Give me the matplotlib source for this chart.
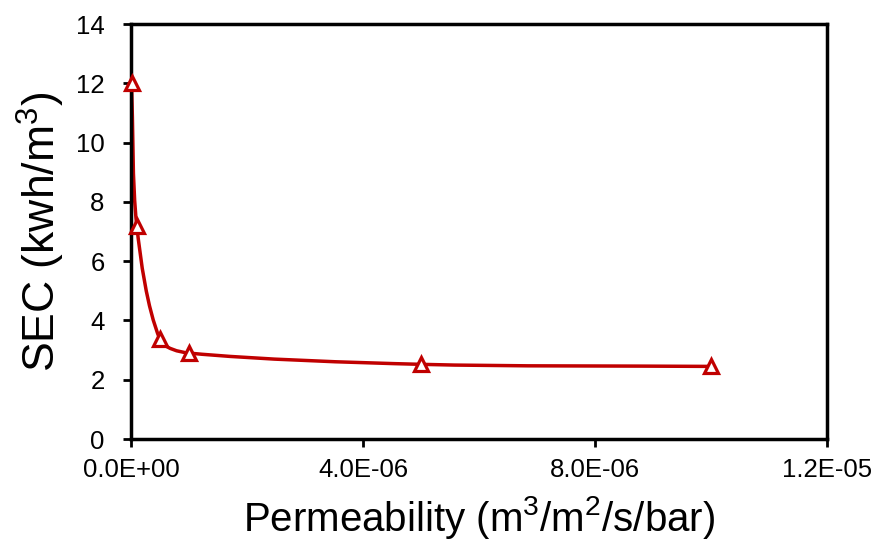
import numpy as np
import matplotlib
matplotlib.use("Agg")
import matplotlib.pyplot as plt
from matplotlib.path import Path
from matplotlib.patches import PathPatch
from matplotlib.ticker import FuncFormatter, MultipleLocator

plt.rcParams['font.family'] = ['Liberation Sans', 'DejaVu Sans']
plt.rcParams['mathtext.default'] = 'regular'

# permeability (m3/m2/s/bar) vs specific energy consumption (kWh/m3)
permeability = [1e-8, 1e-7, 5e-7, 1e-6, 5e-6, 1e-5]
sec = [12.0, 7.2, 3.36, 2.9, 2.52, 2.45]

x_ticks = [0, 4e-6, 8e-6, 1.2e-5]
x_max, y_max = 1.2e-5, 14
line_color = '#C00000'


def smooth_path(xs, ys, sx, sy, k=0.3):
    """Bezier path through the points; tangents taken in screen units."""
    pts = np.column_stack([np.asarray(xs) * sx, np.asarray(ys) * sy])
    n = len(pts)
    tangents = []
    for i in range(n):
        a = pts[max(i - 1, 0)]
        b = pts[min(i + 1, n - 1)]
        d = b - a
        tangents.append(d / np.hypot(*d))
    verts = [pts[0]]
    codes = [Path.MOVETO]
    for i in range(n - 1):
        seg = np.hypot(*(pts[i + 1] - pts[i]))
        verts += [pts[i] + tangents[i] * seg * k,
                  pts[i + 1] - tangents[i + 1] * seg * k,
                  pts[i + 1]]
        codes += [Path.CURVE4] * 3
    verts = np.array(verts) / [sx, sy]
    return Path(verts, codes)


fig = plt.figure(figsize=(8.76, 5.47), dpi=100)
ax = fig.add_axes([0.1495, 0.1974, 0.7945, 0.7586])
ax.set_xlim(0, x_max)
ax.set_ylim(0, y_max)

# pixel scale of the axes, so the curve bends the same way it looks on screen
bbox = ax.get_window_extent()
sx = bbox.width / x_max
sy = bbox.height / y_max

curve = PathPatch(smooth_path(permeability, sec, sx, sy), facecolor='none',
                  edgecolor=line_color, linewidth=2.5, clip_on=False)
ax.add_patch(curve)
ax.plot(permeability, sec, linestyle='none', marker='^', markersize=10,
        markerfacecolor='white', markeredgecolor=line_color,
        markeredgewidth=2.3, clip_on=False, zorder=3)

ax.set_xticks(x_ticks)
ax.yaxis.set_major_locator(MultipleLocator(2))
ax.xaxis.set_major_formatter(FuncFormatter(lambda v, pos: f"{v:.1E}"))

for side in ['left', 'bottom', 'top', 'right']:
    ax.spines[side].set_linewidth(2.5)
ax.tick_params(direction='out', length=6, width=2, labelsize=18.5,
               top=False, right=False)
ax.tick_params(axis='x', pad=8)
ax.tick_params(axis='y', pad=13)

ax.set_xlabel('Permeability (m$^3$/m$^2$/s/bar)', fontsize=29, labelpad=8)
ax.set_ylabel('SEC (kwh/m$^3$)', fontsize=32, labelpad=6)

fig.savefig('out.png', dpi=100)
